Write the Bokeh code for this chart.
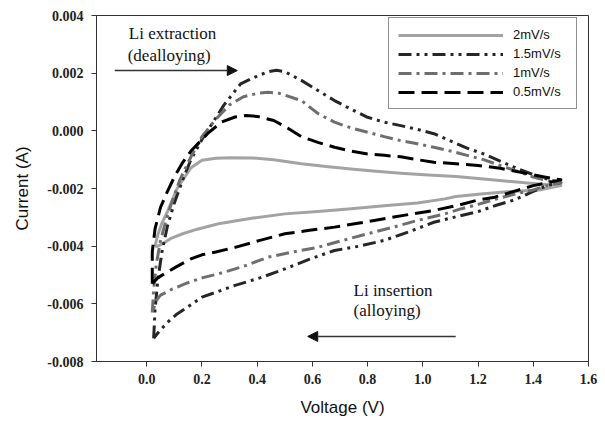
from bokeh.plotting import figure
from bokeh.models import Range1d, FixedTicker, Legend, LegendItem, Label, Arrow, NormalHead
from bokeh.embed import file_html
from bokeh.resources import INLINE

# ---------------- data ----------------
series_names = ["2mV/s", "1.5mV/s", "1mV/s", "0.5mV/s"]

# 2 mV/s : anodic (upper) branch then cathodic (lower) branch
v2_up_x = [0.03, 0.04, 0.055, 0.075, 0.11, 0.16, 0.2, 0.25, 0.3, 0.38, 0.46, 0.56, 0.65, 0.74, 0.83, 0.92,
           1.02, 1.12, 1.22, 1.32, 1.42, 1.5]
v2_up_y = [-0.0040, -0.0036, -0.0032, -0.0028, -0.0020, -0.00128, -0.00102, -0.00095, -0.00093, -0.00094,
           -0.00100, -0.00114, -0.00124, -0.00132, -0.00140, -0.00147, -0.00153, -0.00158, -0.00167,
           -0.00176, -0.00184, -0.0019]
v2_dn_x = [1.5, 1.42, 1.32, 1.22, 1.12, 1.08, 0.98, 0.86, 0.74, 0.62, 0.5, 0.38, 0.26, 0.18, 0.13, 0.09,
           0.06, 0.04, 0.03]
v2_dn_y = [-0.0019, -0.00205, -0.0021, -0.00218, -0.00228, -0.00236, -0.0025, -0.0026, -0.0027, -0.0028,
           -0.00288, -0.00303, -0.00322, -0.00342, -0.00357, -0.00372, -0.0039, -0.0040, -0.0040]

# 1.5 mV/s
v15_up_x = [0.025, 0.03, 0.04, 0.055, 0.075, 0.1, 0.13, 0.16, 0.2, 0.24, 0.28, 0.34, 0.40, 0.44, 0.47, 0.50,
            0.56, 0.62, 0.68, 0.74, 0.80, 0.86, 0.92, 0.98, 1.04, 1.1, 1.16, 1.22, 1.28, 1.34, 1.4, 1.46, 1.5]
v15_up_y = [-0.0072, -0.0062, -0.0052, -0.0042, -0.0033, -0.0025, -0.0017, -0.0010, -0.0003, 0.0003, 0.0009,
            0.00163, 0.0019, 0.00205, 0.0021, 0.00205, 0.00175, 0.0014, 0.00105, 0.00075, 0.00047, 0.0003,
            0.00018, 0.00005, -0.0001, -0.00035, -0.0006, -0.0008, -0.00105, -0.0013, -0.00152, -0.0017,
            -0.0018]
v15_dn_x = [1.5, 1.45, 1.4, 1.33, 1.26, 1.2, 1.12, 1.04, 0.95, 0.86, 0.77, 0.68, 0.59, 0.5, 0.41, 0.32,
            0.25, 0.2, 0.15, 0.11, 0.08, 0.05, 0.038, 0.025]
v15_dn_y = [-0.0018, -0.0019, -0.0021, -0.0024, -0.0026, -0.0028, -0.00298, -0.00317, -0.0035, -0.0038,
            -0.0040, -0.00415, -0.00445, -0.00479, -0.0051, -0.00536, -0.0056, -0.00577, -0.0061, -0.00635,
            -0.0066, -0.0069, -0.00704, -0.0072]

# 1 mV/s
v1_up_x = [0.02, 0.025, 0.035, 0.05, 0.07, 0.09, 0.12, 0.16, 0.2, 0.25, 0.3, 0.35, 0.4, 0.44, 0.48, 0.56,
           0.62, 0.68, 0.74, 0.8, 0.86, 0.92, 0.98, 1.04, 1.1, 1.16, 1.22, 1.28, 1.34, 1.4, 1.46, 1.5]
v1_up_y = [-0.0063, -0.0055, -0.0046, -0.0038, -0.0031, -0.0025, -0.0017, -0.0009, -0.0002, 0.0004, 0.0009,
           0.00118, 0.0013, 0.00134, 0.0013, 0.00105, 0.0006, 0.0003, 0.0001, -0.00005, -0.0002, -0.00034,
           -0.00045, -0.00057, -0.0007, -0.00085, -0.001, -0.0012, -0.0014, -0.0016, -0.00175, -0.0018]
v1_dn_x = [1.5, 1.45, 1.4, 1.33, 1.26, 1.2, 1.14, 1.08, 0.98, 0.89, 0.8, 0.71, 0.62, 0.53, 0.44, 0.35,
           0.26, 0.2, 0.14, 0.09, 0.05, 0.035, 0.02]
v1_dn_y = [-0.0018, -0.0019, -0.00205, -0.0022, -0.00238, -0.00255, -0.0027, -0.00288, -0.00311, -0.00335,
           -0.00357, -0.0038, -0.00404, -0.0042, -0.00438, -0.0047, -0.00496, -0.0051, -0.0053, -0.0055,
           -0.0057, -0.00588, -0.0063]

# 0.5 mV/s
v05_up_x = [0.02, 0.02, 0.03, 0.05, 0.075, 0.1, 0.13, 0.16, 0.19, 0.22, 0.27, 0.32, 0.36, 0.4, 0.46, 0.51,
            0.56, 0.62, 0.68, 0.74, 0.8, 0.86, 0.92, 0.98, 1.04, 1.12, 1.2, 1.28, 1.36, 1.44, 1.5]
v05_up_y = [-0.0053, -0.0042, -0.0034, -0.00265, -0.0021, -0.0016, -0.0011, -0.0007, -0.0004, -0.0001,
            0.0003, 0.00048, 0.00053, 0.0005, 0.00036, 0.0001, -0.0002, -0.0004, -0.00057, -0.0007, -0.0008,
            -0.00085, -0.0009, -0.001, -0.00109, -0.00114, -0.0012, -0.0013, -0.00145, -0.0016, -0.0017]
v05_dn_x = [1.5, 1.45, 1.4, 1.33, 1.26, 1.2, 1.12, 1.04, 0.95, 0.86, 0.77, 0.68, 0.59, 0.5, 0.41, 0.32,
            0.25, 0.2, 0.16, 0.11, 0.063, 0.04, 0.02]
v05_dn_y = [-0.0017, -0.0018, -0.0019, -0.0021, -0.0023, -0.0024, -0.0026, -0.00276, -0.0029, -0.00305,
            -0.0032, -0.00334, -0.00345, -0.00357, -0.0038, -0.00404, -0.0042, -0.0043, -0.00444, -0.0047,
            -0.00496, -0.0051, -0.0053]

x_ticks = [0.0, 0.2, 0.4, 0.6, 0.8, 1.0, 1.2, 1.4, 1.6]
x_tick_labels = ["0.0", "0.2", "0.4", "0.6", "0.8", "1.0", "1.2", "1.4", "1.6"]
y_ticks = [-0.008, -0.006, -0.004, -0.002, 0.0, 0.002, 0.004]
y_tick_labels = ["-0.008", "-0.006", "-0.004", "-0.002", "0.000", "0.002", "0.004"]

# ---------------- figure ----------------
p = figure(width=598, height=421, output_backend="svg", toolbar_location=None,
           x_range=Range1d(-0.182, 1.6), y_range=Range1d(-0.008, 0.004),
           min_border_left=96, min_border_right=10, min_border_top=15, min_border_bottom=60)
p.background_fill_color = "white"
p.border_fill_color = "white"
p.outline_line_color = "#333333"
p.outline_line_width = 1
p.xgrid.visible = False
p.ygrid.visible = False

tick_font = "Liberation Serif"
for ax in (p.xaxis[0], p.yaxis[0]):
    ax.axis_line_color = "#333333"
    ax.major_tick_line_color = "#333333"
    ax.major_tick_in = 0
    ax.major_tick_out = 5
    ax.minor_tick_line_color = None
    ax.major_label_text_font = tick_font
    ax.major_label_text_font_style = "bold"
    ax.major_label_text_font_size = "14px"
    ax.major_label_text_color = "#222222"
    ax.axis_label_text_font = "Liberation Sans"
    ax.axis_label_text_font_style = "normal"
    ax.axis_label_text_font_size = "17px"
    ax.axis_label_text_color = "#111111"

p.xaxis.ticker = FixedTicker(ticks=x_ticks)
p.xaxis.major_label_overrides = dict(zip(x_ticks, x_tick_labels))
p.yaxis.ticker = FixedTicker(ticks=y_ticks)
p.yaxis.major_label_overrides = dict(zip(y_ticks, y_tick_labels))
p.xaxis.axis_label = "Voltage (V)"
p.yaxis.axis_label = "Current (A)"
p.xaxis.major_label_standoff = 7
p.xaxis.axis_label_standoff = 11
p.yaxis.major_label_standoff = 8
p.yaxis.axis_label_standoff = 12

styles = [
    dict(color="#a3a3a3", dash="solid"),
    dict(color="#262626", dash="13 5 3 5 3 5"),
    dict(color="#6e6e6e", dash="13 5 3 5"),
    dict(color="#000000", dash="16 7"),
]
curves = [
    (v2_up_x + v2_dn_x, v2_up_y + v2_dn_y),
    (v15_up_x + v15_dn_x, v15_up_y + v15_dn_y),
    (v1_up_x + v1_dn_x, v1_up_y + v1_dn_y),
    (v05_up_x + v05_dn_x, v05_up_y + v05_dn_y),
]

items = []
for name, (cx, cy), st in zip(series_names, curves, styles):
    r = p.line(cx, cy, line_color=st["color"], line_width=3, line_dash=st["dash"],
               line_join="round")
    items.append(LegendItem(label=name, renderers=[r]))

legend = Legend(items=items, location=(292, 252), glyph_width=105, glyph_height=14,
                label_height=14, label_width=54, spacing=4, padding=9, label_standoff=10,
                border_line_color="#222222", border_line_width=1, background_fill_alpha=1.0,
                label_text_font="Liberation Sans", label_text_font_size="13px",
                label_text_color="#111111", margin=0)
p.add_layout(legend)

# ---------------- annotations ----------------
ann_font = "Liberation Serif"
ann_size = "17px"
p.add_layout(Label(x=-0.065, y=0.00338, text="Li extraction", text_baseline="middle",
                   text_font=ann_font, text_font_size=ann_size, text_color="#111111"))
p.add_layout(Label(x=-0.069, y=0.00261, text="(dealloying)", text_baseline="middle",
                   text_font=ann_font, text_font_size=ann_size, text_color="#111111"))
p.add_layout(Label(x=0.749, y=-0.00554, text="Li insertion", text_baseline="middle",
                   text_font=ann_font, text_font_size=ann_size, text_color="#111111"))
p.add_layout(Label(x=0.749, y=-0.00623, text="(alloying)", text_baseline="middle",
                   text_font=ann_font, text_font_size=ann_size, text_color="#111111"))

p.add_layout(Arrow(end=NormalHead(size=10, fill_color="#111111", line_color="#111111"),
                   x_start=-0.116, y_start=0.00209, x_end=0.328, y_end=0.00209,
                   line_color="#333333", line_width=1.5))
p.add_layout(Arrow(end=NormalHead(size=10, fill_color="#111111", line_color="#111111"),
                   x_start=1.119, y_start=-0.00713, x_end=0.583, y_end=-0.00713,
                   line_color="#333333", line_width=1.5))

open("out.html", "w").write(file_html(p, INLINE))
